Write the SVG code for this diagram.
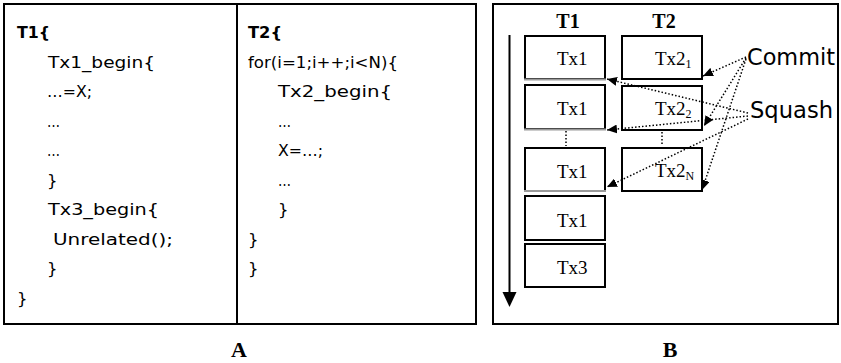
<svg xmlns="http://www.w3.org/2000/svg" width="841" height="363" viewBox="0 0 841 363">
<style>
.frame{fill:#fff;stroke:#000;stroke-width:2}
.box{fill:#fff;stroke:#000;stroke-width:2}
.code{font-family:"DejaVu Sans","Liberation Sans",sans-serif;font-size:16.5px;fill:#000}
.codeb{font-family:"DejaVu Sans","Liberation Sans",sans-serif;font-size:16px;font-weight:bold;fill:#000}
.lbl{font-family:"Liberation Serif","Times New Roman",serif;font-size:19px;fill:#000}
.sub{font-family:"Liberation Serif","Times New Roman",serif;font-size:12px;fill:#000}
.hdr{font-family:"Liberation Serif","Times New Roman",serif;font-size:20px;font-weight:bold;fill:#000}
.cap{font-family:"Liberation Serif","Times New Roman",serif;font-size:22px;font-weight:bold;fill:#000}
.word{font-family:"DejaVu Sans","Liberation Sans",sans-serif;font-size:23px;fill:#000}
.dot{fill:none;stroke:#000;stroke-width:1.5;stroke-dasharray:1.5 2}
.gray{stroke:#9a9a9a;stroke-width:2}
</style>
<defs>
<marker id="ah" markerUnits="userSpaceOnUse" markerWidth="11" markerHeight="9" refX="10" refY="4.5" orient="auto">
<path d="M0,0 L10,4.5 L0,9 Z" fill="#000"/>
</marker>
</defs>
<rect width="841" height="363" fill="#fff"/>

<g id="panelA">
<rect class="frame" x="4" y="4" width="472" height="320"/>
<line x1="237" y1="4" x2="237" y2="324" stroke="#000" stroke-width="2"/>
</g>

<g id="codeT1">
<text class="codeb" x="17" y="38" textLength="33" lengthAdjust="spacingAndGlyphs">T1{</text>
<text class="code" x="48" y="67.5" textLength="107" lengthAdjust="spacingAndGlyphs">Tx1_begin{</text>
<text class="code" x="47" y="97" textLength="45" lengthAdjust="spacingAndGlyphs">…=X;</text>
<text class="code" x="47" y="126.5" textLength="13" lengthAdjust="spacingAndGlyphs">…</text>
<text class="code" x="47" y="156" textLength="13" lengthAdjust="spacingAndGlyphs">…</text>
<text class="code" x="47" y="185.5">}</text>
<text class="code" x="48" y="215" textLength="111" lengthAdjust="spacingAndGlyphs">Tx3_begin{</text>
<text class="code" x="53" y="244.5" textLength="120" lengthAdjust="spacingAndGlyphs">Unrelated();</text>
<text class="code" x="47" y="274">}</text>
<text class="code" x="17" y="303.5">}</text>
</g>

<g id="codeT2">
<text class="codeb" x="248" y="38" textLength="34" lengthAdjust="spacingAndGlyphs">T2{</text>
<text class="code" x="248" y="67.5" textLength="150" lengthAdjust="spacingAndGlyphs">for(i=1;i++;i&lt;N){</text>
<text class="code" x="278" y="97" textLength="114" lengthAdjust="spacingAndGlyphs">Tx2_begin{</text>
<text class="code" x="278" y="126.5" textLength="13" lengthAdjust="spacingAndGlyphs">…</text>
<text class="code" x="278" y="156" textLength="45" lengthAdjust="spacingAndGlyphs">X=…;</text>
<text class="code" x="278" y="185.5" textLength="13" lengthAdjust="spacingAndGlyphs">…</text>
<text class="code" x="278" y="215">}</text>
<text class="code" x="248" y="244.5">}</text>
<text class="code" x="248" y="274">}</text>
</g>

<g id="panelB">
<rect class="frame" x="493" y="4" width="345" height="320"/>
<text class="hdr" x="568" y="28" text-anchor="middle">T1</text>
<text class="hdr" x="664" y="28" text-anchor="middle">T2</text>
</g>

<g id="timeAxis">
<line x1="509.5" y1="35" x2="509.5" y2="293" stroke="#000" stroke-width="2"/>
<path d="M502.5,292 L516.5,292 L509.5,307 Z" fill="#000"/>
</g>

<g id="t1box1"><rect class="box" x="525" y="36" width="80" height="43"/><line class="gray" x1="524" y1="79.5" x2="606" y2="79.5"/><text class="lbl" x="557" y="65">Tx1</text></g>
<g id="t1box2"><rect class="box" x="525" y="85" width="80" height="44"/><line class="gray" x1="524" y1="129.5" x2="606" y2="129.5"/><text class="lbl" x="557" y="115">Tx1</text></g>
<g id="t1box3"><rect class="box" x="525" y="148" width="80" height="43"/><line class="gray" x1="524" y1="191" x2="606" y2="191"/><text class="lbl" x="557" y="178">Tx1</text></g>
<g id="t1box4"><rect class="box" x="525" y="196" width="80" height="44"/><text class="lbl" x="557" y="227">Tx1</text></g>
<g id="t1box5"><rect class="box" x="525" y="244" width="80" height="43"/><text class="lbl" x="557" y="274">Tx3</text></g>

<g id="t2box1"><rect class="box" x="622" y="36" width="80" height="43"/><text class="lbl" x="655" y="65">Tx2<tspan class="sub" dy="3">1</tspan></text></g>
<g id="t2box2"><rect class="box" x="622" y="86" width="80" height="44"/><text class="lbl" x="655" y="115">Tx2<tspan class="sub" dy="3">2</tspan></text></g>
<g id="t2box3"><rect class="box" x="622" y="148" width="80" height="43"/><text class="lbl" x="655" y="177">Tx2<tspan class="sub" dy="3">N</tspan></text></g>

<g id="commit"><text class="word" x="747" y="65" textLength="88" lengthAdjust="spacingAndGlyphs">Commit</text></g>
<g id="squash"><text class="word" x="750" y="118" textLength="83" lengthAdjust="spacingAndGlyphs">Squash</text></g>

<g id="connectors">
<line class="dot" x1="566" y1="131" x2="566" y2="146"/>
<line class="dot" x1="662" y1="132" x2="662" y2="146"/>
<line class="dot" x1="746" y1="57" x2="703" y2="76" marker-end="url(#ah)"/>
<line class="dot" x1="746" y1="58" x2="704" y2="126" marker-end="url(#ah)"/>
<line class="dot" x1="746" y1="59" x2="702" y2="190" marker-end="url(#ah)"/>
<line class="dot" x1="748" y1="113" x2="607" y2="79" marker-end="url(#ah)"/>
<line class="dot" x1="748" y1="116" x2="607" y2="130" marker-end="url(#ah)"/>
<line class="dot" x1="748" y1="119" x2="607" y2="187" marker-end="url(#ah)"/>
</g>

<g id="labels">
<text class="cap" x="239" y="357" text-anchor="middle">A</text>
<text class="cap" x="670" y="357" text-anchor="middle">B</text>
</g>
</svg>
